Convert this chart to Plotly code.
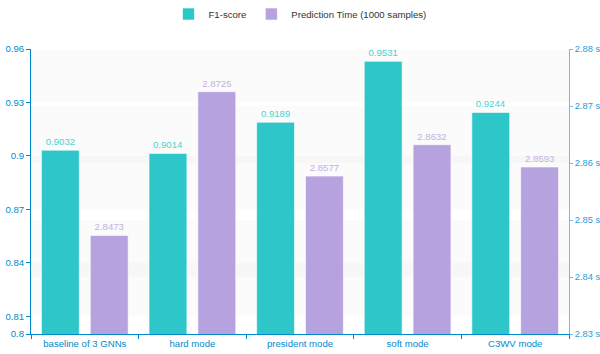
import plotly.graph_objects as go

categories = ["baseline of 3 GNNs", "hard mode", "president mode", "soft mode", "C3WV mode"]
f1_scores = [0.9032, 0.9014, 0.9189, 0.9531, 0.9244]
pred_times = [2.8473, 2.8725, 2.8577, 2.8632, 2.8593]
left_ticks = [0.8, 0.81, 0.84, 0.87, 0.9, 0.93, 0.96]
left_labels = ["0.8", "0.81", "0.84", "0.87", "0.9", "0.93", "0.96"]
right_ticks = [2.83, 2.84, 2.85, 2.86, 2.87, 2.88]
right_labels = ["2.83 s", "2.84 s", "2.85 s", "2.86 s", "2.87 s", "2.88 s"]

TEAL = "#2ec7c9"
PURPLE = "#b6a2de"
AXIS = "#008acd"
FONT = "Liberation Sans, Arial, sans-serif"
FS = 9.6

fig = go.Figure()
fig.add_trace(go.Bar(
    x=categories, y=f1_scores, name="F1-score", yaxis="y",
    marker=dict(color=TEAL, line=dict(color="rgba(255,255,255,0.6)", width=1)),
    width=0.352, offset=-0.403,
    text=[f"{v:.4f}" for v in f1_scores], textposition="outside",
    textfont=dict(color="#4fd0d2", size=FS, family=FONT), cliponaxis=False,
))
fig.add_trace(go.Bar(
    x=categories, y=pred_times, name="Prediction Time (1000 samples)", yaxis="y2",
    marker=dict(color=PURPLE, line=dict(color="rgba(255,255,255,0.6)", width=1)),
    width=0.352, offset=0.051,
    text=[f"{v:.4f}" for v in pred_times], textposition="outside",
    textfont=dict(color="#c2b1e3", size=FS, family=FONT), cliponaxis=False,
))

shapes = []
band = "rgba(200,200,200,0.08)"
for i in range(len(left_ticks) - 1):
    if i % 2 == 1:
        shapes.append(dict(type="rect", xref="paper", yref="y", x0=0, x1=1,
                           y0=left_ticks[i], y1=left_ticks[i + 1],
                           fillcolor=band, line=dict(width=0), layer="below"))
for i in range(len(right_ticks) - 1):
    if i % 2 == 1:
        shapes.append(dict(type="rect", xref="paper", yref="y2", x0=0, x1=1,
                           y0=right_ticks[i], y1=right_ticks[i + 1],
                           fillcolor=band, line=dict(width=0), layer="below"))

fig.update_layout(
    width=600, height=354,
    margin=dict(l=31, r=31, t=49, b=20),
    paper_bgcolor="white", plot_bgcolor="white",
    font=dict(family=FONT, size=FS, color=AXIS),
    barmode="group",
    shapes=shapes,
    showlegend=True,
    legend=dict(orientation="h", x=0.5, xanchor="center",
                yref="container", y=1 - 14 / 354, yanchor="middle",
                font=dict(size=FS, color="#333333", family=FONT), itemwidth=30,
                traceorder="normal"),
    xaxis=dict(
        type="category", showline=True, linecolor=AXIS, linewidth=1,
        ticks="outside", tickson="boundaries", ticklen=4, tickcolor=AXIS,
        tickfont=dict(color=AXIS, size=FS), showgrid=False, zeroline=False,
        tickangle=0, automargin=False,
    ),
    yaxis=dict(
        range=[0.8, 0.96], tickvals=left_ticks, ticktext=left_labels,
        showline=True, linecolor=AXIS, linewidth=1, ticks="outside", ticklen=4,
        tickcolor=AXIS, tickfont=dict(color=AXIS, size=FS), showgrid=False, zeroline=False,
        automargin=False,
    ),
    yaxis2=dict(
        range=[2.83, 2.88], tickvals=right_ticks, ticktext=right_labels,
        overlaying="y", side="right",
        showline=True, linecolor="#6cbcec", linewidth=1, ticks="outside", ticklen=3,
        tickcolor="#6cbcec", tickfont=dict(color="#2a9ad8", size=9.3), showgrid=False, zeroline=False,
        automargin=False,
    ),
)

fig.write_html("out.html")
